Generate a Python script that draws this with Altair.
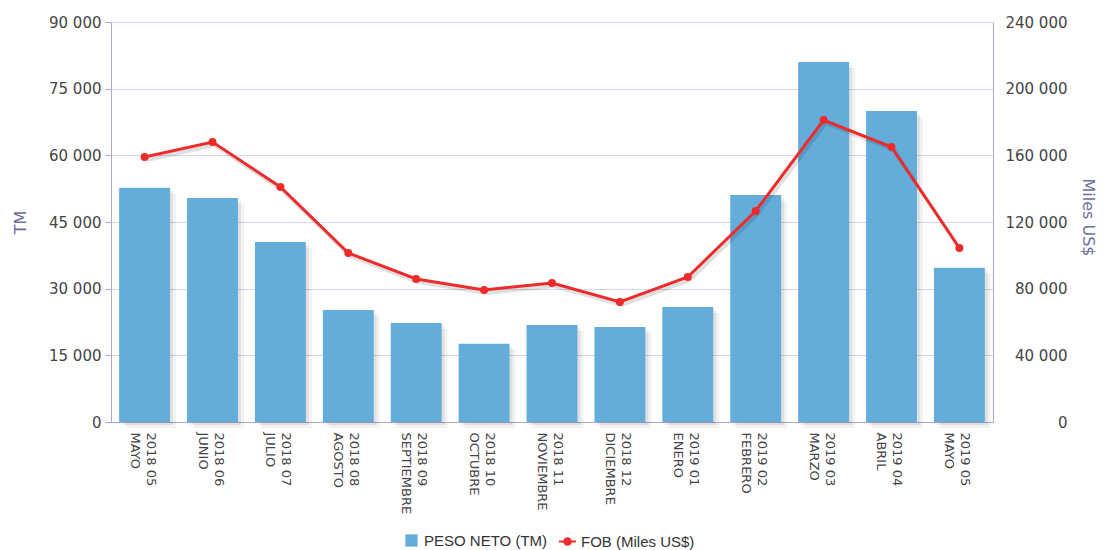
import altair as alt
import pandas as pd

periodos = ["2018 05", "2018 06", "2018 07", "2018 08", "2018 09", "2018 10", "2018 11",
            "2018 12", "2019 01", "2019 02", "2019 03", "2019 04", "2019 05"]
meses = ["MAYO", "JUNIO", "JULIO", "AGOSTO", "SEPTIEMBRE", "OCTUBRE", "NOVIEMBRE",
         "DICIEMBRE", "ENERO", "FEBRERO", "MARZO", "ABRIL", "MAYO"]
peso_neto = [52700, 50400, 40500, 25200, 22300, 17600, 21800, 21400, 25900, 51100, 81000, 70000, 34700]
fob = [159000, 168000, 141000, 101400, 85800, 79200, 83400, 72000, 87000, 126600, 181200, 165000, 104400]
left_ticks = [0, 15000, 30000, 45000, 60000, 75000, 90000]
right_ticks = [0, 40000, 80000, 120000, 160000, 200000, 240000]

etiquetas = [p + "|" + m for p, m in zip(periodos, meses)]
df = pd.DataFrame({
    "cat": etiquetas,
    "peso": peso_neto,
    "fob": fob,
    "s1": "PESO NETO (TM)",
    "s2": "FOB (Miles US$)",
})

AX = "#a8a8cc"
GRID = "#d6d6e8"
LBL = "#444444"
TTL = "#6e6e9e"
BLUE = "#64ADDB"
RED = "#EE2B2B"
FONT = "DejaVu Sans"
num_expr = "replace(format(datum.value, ','), /,/g, ' ')"

x_enc = alt.X(
    "cat:N", sort=etiquetas,
    scale=alt.Scale(paddingInner=0.25, paddingOuter=0.12),
    axis=alt.Axis(title=None, labelAngle=90, labelAlign="left", labelBaseline="middle",
                  labelExpr="split(datum.label, '|')", ticks=False, labelPadding=10,
                  labelOffset=6,
                  domainColor=AX, labelFont=FONT, labelFontSize=13, labelColor=LBL,
                  labelLineHeight=16, grid=False),
)

y_left = alt.Y(
    "peso:Q",
    scale=alt.Scale(domain=[0, 90000], nice=False),
    axis=alt.Axis(values=left_ticks, title="TM", orient="left", labelExpr=num_expr,
                  labelFont=FONT, labelFontSize=15, labelColor=LBL, labelPadding=4,
                  tickSize=6, tickColor=AX, domainColor=AX, grid=True, gridColor=GRID,
                  titleFont=FONT, titleFontSize=16, titleFontWeight="normal", titleColor=TTL,
                  titleX=-91, titleY=200, titleAngle=-90, titleAlign="center",
                  titleBaseline="middle"),
)

y_right = alt.Y(
    "fob:Q",
    scale=alt.Scale(domain=[0, 240000], nice=False),
    axis=alt.Axis(values=right_ticks, title="Miles US$", orient="right", labelExpr=num_expr,
                  labelFont=FONT, labelFontSize=15, labelColor=LBL, labelPadding=74,
                  labelAlign="right", ticks=False, domainColor=AX, grid=False,
                  titleFont=FONT, titleFontSize=16, titleFontWeight="normal", titleColor=TTL,
                  titleX=94, titleY=195, titleAngle=90, titleAlign="center",
                  titleBaseline="middle"),
)

base = alt.Chart(df).encode(x=x_enc)

sh1 = base.mark_bar(color="black", opacity=0.07, xOffset=3, x2Offset=3, yOffset=3,
                    y2Offset=3).encode(y=y_left)
sh2 = base.mark_bar(color="black", opacity=0.05, xOffset=6, x2Offset=6, yOffset=6,
                    y2Offset=6).encode(y=y_left)
bars = base.mark_bar(opacity=1).encode(
    y=y_left,
    color=alt.Color("s1:N", scale=alt.Scale(range=[BLUE]),
                    legend=alt.Legend(title=None, orient="none", legendX=293, legendY=511,
                                      symbolType="square", symbolSize=150,
                                      symbolStrokeWidth=0, labelFont="Liberation Sans",
                                      labelFontSize=15, labelColor="#333333",
                                      labelOffset=5)),
)

line_shadow = base.mark_line(color="black", opacity=0.12, strokeWidth=4, xOffset=2,
                             yOffset=3).encode(y=y_right)
line = base.mark_line(color=RED, strokeWidth=3).encode(y=y_right)
legend_path = ("M-1,-0.13L1,-0.13L1,0.13L-1,0.13Z "
               "M0.5,0A0.5,0.5,0,1,1,-0.5,0A0.5,0.5,0,1,1,0.5,0Z")
points = base.mark_circle(size=64, opacity=1).encode(
    y=y_right,
    fill=alt.Fill("s2:N", scale=alt.Scale(range=[RED]),
                  legend=alt.Legend(title=None, orient="none", legendX=448, legendY=511,
                                    symbolType=legend_path, symbolSize=289,
                                    symbolStrokeWidth=0, labelFont="Liberation Sans",
                                    labelFontSize=15, labelColor="#333333", labelOffset=5)),
)

left = alt.layer(sh1, sh2, bars)
right = alt.layer(line_shadow, line, points)

chart = alt.layer(left, right).resolve_scale(
    y="independent", color="independent", fill="independent"
).properties(
    width=882, height=400,
    autosize=alt.AutoSizeParams(type="none"),
    padding={"left": 103, "top": 14, "right": 103, "bottom": 128},
).configure_view(stroke=None).configure(background="white")

chart.save("out.html", embed_options={"renderer": "svg", "actions": False})
